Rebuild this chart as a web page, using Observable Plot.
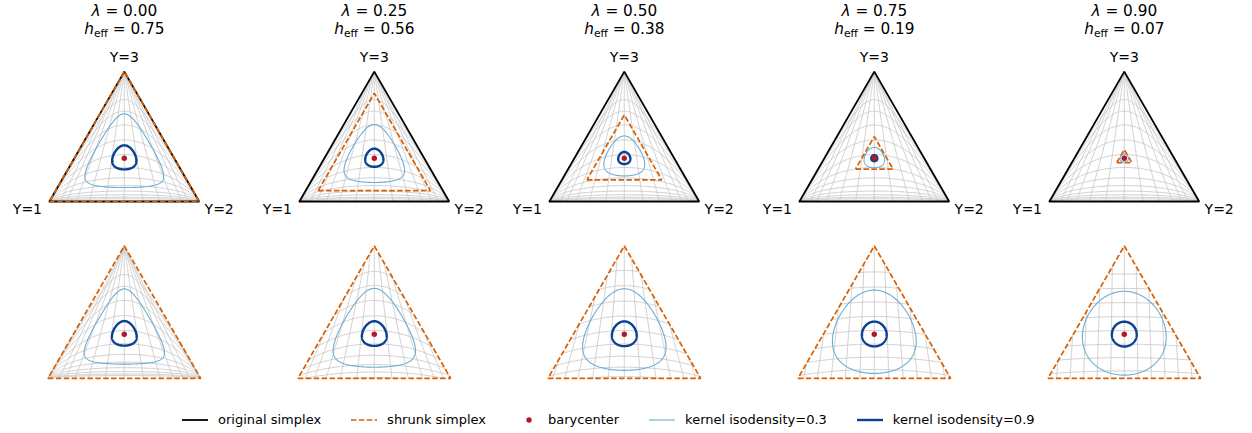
<!DOCTYPE html>
<html><head><meta charset="utf-8">
<script src="https://cdn.jsdelivr.net/npm/d3@7"></script>
<script src="https://cdn.jsdelivr.net/npm/@observablehq/plot@0.6"></script>
<style>
html,body{margin:0;padding:0;background:#fff;overflow:hidden}
body{width:1252px;height:433px;font-family:"DejaVu Sans",sans-serif}
#legend{display:flex;align-items:center;height:27px;padding-top:6px;padding-left:182px;font-size:13px;color:#000}
.item{display:flex;align-items:center;margin-right:30px}
.item svg{margin-right:10px}
.item.dot svg{margin-right:6px}
</style></head><body>
<div id="chart"></div>
<div id="legend"></div>
<script>
// ---- data ----
const lambdas = [0, 0.25, 0.5, 0.75, 0.9];
const hEff = [0.75, 0.5625, 0.375, 0.1875, 0.075];
const vertexLabels = ["Y=1", "Y=2", "Y=3"];
const vertices = [[1, 0, 0], [0, 1, 0], [0, 0, 1]];
const barycenter = [1 / 3, 1 / 3, 1 / 3];
const isoLevels = [0.3, 0.9];
const gridZ1 = [-1.80, -1.44, -1.08, -0.72, -0.36, 0, 0.36, 0.72, 1.08, 1.44, 1.80];
const gridZ2 = [-2.56, -2.18, -1.80, -1.42, -1.04, -0.66, -0.28, 0.10, 0.48, 0.86, 1.24, 1.62];
const seriesNames = ["original simplex", "shrunk simplex", "barycenter", "kernel isodensity=0.3", "kernel isodensity=0.9"];

const ORANGE = "#d95f02", LIGHT = "#6baed6", DARK = "#0a4190", RED = "#b2182b", GRID = "#c2c2c2";

// ---- geometry helpers ----
const SQ3 = Math.sqrt(3), S2 = Math.SQRT2, S6 = Math.sqrt(6);
const CY = SQ3 / 6, BOTTOM_SCALE = 1.02;
function ilrInv(z1, z2) {
  const c1 = -z1 / S2 - z2 / S6, c2 = z1 / S2 - z2 / S6, c3 = 2 * z2 / S6;
  const m = Math.max(c1, c2, c3);
  const e1 = Math.exp(c1 - m), e2 = Math.exp(c2 - m), e3 = Math.exp(c3 - m), s = e1 + e2 + e3;
  return [e1 / s, e2 / s, e3 / s];
}
function norm(p, lam) { return p.map(v => (v - lam / 3) / (1 - lam)); }
function toXY(p, row) {
  let x = p[1] + p[2] / 2, y = p[2] * SQ3 / 2;
  if (row === 1) { x = 0.5 + (x - 0.5) * BOTTOM_SCALE; y = CY + (y - CY) * BOTTOM_SCALE; }
  return [x, y];
}
const lerp = (a, b, t) => a.map((v, i) => v + (b[i] - v) * t);

// ---- build mark data ----
const gridData = [], origData = [], shrunkData = [], contourData = [], baryData = [], labelData = [], titleData = [];
let gid = 0;
function addGridLine(col, row, a, lam, fixed, which) {
  let seg = [], prev = null;
  const flush = () => { if (seg.length > 1) { gid++; for (const [x, y] of seg) gridData.push({col, row, id: gid, x, y}); } seg = []; };
  const N = 480;
  for (let k = 0; k <= N; k++) {
    const s = -6 + 12 * k / N;
    const z1 = which === 1 ? fixed : s, z2 = which === 1 ? s : fixed;
    let p = ilrInv(a * z1, a * z2);
    if (row === 1) p = norm(p, lam);
    const f = Math.min(p[0], p[1], p[2]);
    if (f >= 0) {
      if (prev && prev.f < 0) seg.push(toXY(lerp(prev.p, p, prev.f / (prev.f - f)), row));
      seg.push(toXY(p, row));
    } else if (prev && prev.f >= 0) {
      seg.push(toXY(lerp(prev.p, p, prev.f / (prev.f - f)), row));
      flush();
    }
    prev = {p, f};
  }
  flush();
}

lambdas.forEach((lam, col) => {
  for (const row of [0, 1]) {
    const a = row === 0 ? 1 : 1 - lam;
    for (const t of gridZ1) addGridLine(col, row, a, lam, t, 1);
    for (const t of gridZ2) addGridLine(col, row, a, lam, t, 2);
    const loop = [0, 1, 2, 0];
    if (row === 0) for (const v of loop) { const [x, y] = toXY(vertices[v], row); origData.push({col, row, id: `o${col}`, x, y}); }
    for (const v of loop) {
      let p = vertices[v].map(c => lam / 3 + (1 - lam) * c);
      if (row === 1) p = norm(p, lam);
      const [x, y] = toXY(p, row);
      shrunkData.push({col, row, id: `s${col}${row}`, x, y});
    }
    // kernel isodensity contours (isotropic Gaussian in ilr space, sd = h_eff)
    isoLevels.forEach((L, li) => {
      const rad = hEff[col] * Math.sqrt(-2 * Math.log(L));
      const N = 240;
      for (let k = 0; k <= N; k++) {
        const th = 2 * Math.PI * k / N;
        let p = ilrInv(rad * Math.cos(th), rad * Math.sin(th));
        if (row === 1) p = norm(p, lam);
        const [x, y] = toXY(p, row);
        contourData.push({col, row, level: L, id: `c${col}${row}${li}`, x, y});
      }
    });
    let pb = barycenter;
    if (row === 1) pb = norm(pb, lam);
    const [bx, by] = toXY(pb, row);
    baryData.push({col, row, x: bx, y: by});
  }
  vertices.forEach((v, vi) => { const [x, y] = toXY(v, 0); labelData.push({col, row: 0, vi, x, y, label: vertexLabels[vi]}); });
  const [ax, ay] = toXY(vertices[2], 0);
  titleData.push({col, row: 0, x: ax, y: ay, t1: "λ = " + lam.toFixed(2), t2: "heff = " + hEff[col].toFixed(2)});
});

const common = {x: "x", y: "y", fx: "col", fy: "row"};
const chart = Plot.plot({
  width: 1252, height: 400,
  marginTop: 40, marginBottom: 8, marginLeft: 0, marginRight: 0,
  style: {fontFamily: "DejaVu Sans", background: "white", overflow: "visible"},
  x: {domain: [-0.32, -0.32 + 1252 / 5 / 150], axis: null},
  y: {domain: [1.0734 - 176 / 150, 1.0734], axis: null},
  fx: {domain: [0, 1, 2, 3, 4], axis: null, padding: 0},
  fy: {domain: [0, 1], axis: null, padding: 0},
  marks: [
    Plot.line(gridData, {...common, z: "id", stroke: GRID, strokeWidth: 0.8}),
    Plot.line(origData, {...common, z: "id", stroke: "#000", strokeWidth: 1.8, strokeLinejoin: "miter"}),
    Plot.line(shrunkData, {...common, z: "id", stroke: ORANGE, strokeWidth: 1.7, strokeDasharray: "5.5,2.4", strokeLinecap: "butt", strokeLinejoin: "miter"}),
    Plot.line(contourData.filter(d => d.level === isoLevels[0]), {...common, z: "id", stroke: LIGHT, strokeWidth: 1.1}),
    Plot.line(contourData.filter(d => d.level === isoLevels[1]), {...common, z: "id", stroke: DARK, strokeWidth: 2.4}),
    Plot.dot(baryData, {...common, r: 2.7, fill: RED}),
    Plot.text(labelData.filter(d => d.vi === 0), {...common, text: "label", dx: -22, dy: 8, fontSize: 14, fill: "#000"}),
    Plot.text(labelData.filter(d => d.vi === 1), {...common, text: "label", dx: 20, dy: 8, fontSize: 14, fill: "#000"}),
    Plot.text(labelData.filter(d => d.vi === 2), {...common, text: "label", dy: -14, fontSize: 14, fill: "#000"}),
    Plot.text(titleData, {...common, text: "t1", dy: -61, fontSize: 15.3, fill: "#000"}),
    Plot.text(titleData, {...common, text: "t2", dy: -43, fontSize: 15.3, fill: "#000"})
  ]
});

// math-style titles: italic symbols and subscript
const NS = "http://www.w3.org/2000/svg";
function tspan(txt, attrs) { const e = document.createElementNS(NS, "tspan"); e.textContent = txt; for (const k in attrs || {}) e.setAttribute(k, attrs[k]); return e; }
chart.querySelectorAll("text").forEach(t => {
  const s = t.textContent;
  if (s.startsWith("λ")) {
    t.textContent = "";
    t.appendChild(tspan("λ", {"font-style": "italic"}));
    t.appendChild(tspan(s.slice(1)));
  } else if (s.startsWith("heff")) {
    t.textContent = "";
    t.appendChild(tspan("h", {"font-style": "italic"}));
    t.appendChild(tspan("eff", {"font-size": "10.7px", dy: "3"}));
    t.appendChild(tspan(s.slice(4), {dy: "-3"}));
  }
});
document.getElementById("chart").appendChild(chart);

// legend
const legend = document.getElementById("legend");
const swatches = [
  `<line x1="0" y1="7" x2="26" y2="7" stroke="#000" stroke-width="1.8"/>`,
  `<line x1="0" y1="7" x2="26" y2="7" stroke="${ORANGE}" stroke-width="1.7" stroke-dasharray="5.5,2.4"/>`,
  `<circle cx="13" cy="7" r="2.7" fill="${RED}"/>`,
  `<line x1="0" y1="7" x2="26" y2="7" stroke="${LIGHT}" stroke-width="1.1"/>`,
  `<line x1="0" y1="7" x2="26" y2="7" stroke="${DARK}" stroke-width="2.4"/>`
];
seriesNames.forEach((name, i) => {
  const d = document.createElement("div");
  d.className = i === 2 ? "item dot" : "item";
  d.innerHTML = `<svg width="26" height="14">${swatches[i]}</svg><span>${name}</span>`;
  legend.appendChild(d);
});
</script>
</body></html>
